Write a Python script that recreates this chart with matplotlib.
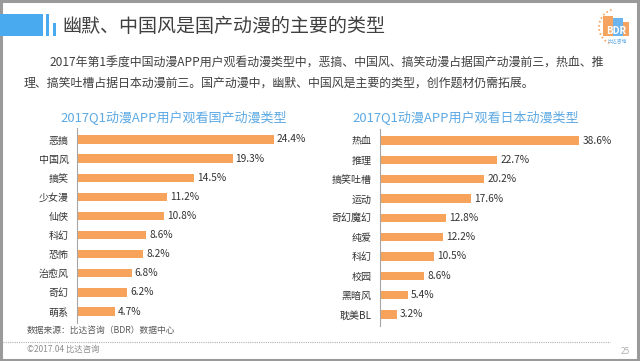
import matplotlib
matplotlib.use("Agg")
import matplotlib.pyplot as plt
from matplotlib.patches import Rectangle, Arc

plt.rcParams['font.family'] = ['Noto Sans CJK SC', 'DejaVu Sans']

# data
cn_types = ["恶搞", "中国风", "搞笑", "少女漫", "仙侠", "科幻", "恐怖", "治愈风", "奇幻", "萌系"]
cn_values = [24.4, 19.3, 14.5, 11.2, 10.8, 8.6, 8.2, 6.8, 6.2, 4.7]
jp_types = ["热血", "推理", "搞笑吐槽", "运动", "奇幻魔幻", "纯爱", "科幻", "校园", "黑暗风", "耽美BL"]
jp_values = [38.6, 22.7, 20.2, 17.6, 12.8, 12.2, 10.5, 8.6, 5.4, 3.2]

W, H = 640, 361
bar_color = "#F7A35C"
title_blue = "#5DA9E4"


def fx(px):
    return px / W


def fy(py):
    return 1 - py / H


fig = plt.figure(figsize=(6.4, 3.61), dpi=100)
fig.patch.set_facecolor("white")

# frame
fig.patches.append(Rectangle((0.0015, 0.003), 0.9955, 0.993, transform=fig.transFigure,
                             fill=False, edgecolor="#9a9a9a", linewidth=2.2))

# header bars
fig.patches.append(Rectangle((0, fy(36)), fx(43), (36 - 14) / H, transform=fig.transFigure,
                             color="#4AAAF0", lw=0))
fig.patches.append(Rectangle((fx(46), fy(36)), fx(3), (36 - 14) / H, transform=fig.transFigure,
                             color="#4AAAF0", lw=0))
fig.patches.append(Rectangle((fx(53), fy(36)), fx(3), (36 - 23) / H, transform=fig.transFigure,
                             color="#4AAAF0", lw=0))
fig.text(fx(62), fy(26), "幽默、中国风是国产动漫的主要的类型", fontsize=13.7,
         color="#3f3f3f", va="center", ha="left")

# logo
fig.patches.append(Rectangle((fx(603), fy(36)), fx(10), 20 / H, transform=fig.transFigure,
                             color="#F4A460", lw=0))
fig.patches.append(Rectangle((fx(613), fy(36)), fx(10), 18 / H, transform=fig.transFigure,
                             color="#6CB4EE", lw=0))
fig.patches.append(Rectangle((fx(623), fy(36)), fx(6), 14 / H, transform=fig.transFigure,
                             color="#F4A460", lw=0))
fig.text(fx(616), fy(31), "BDR", fontsize=7, color="white", ha="center", va="center",
         fontweight="bold")
fig.text(fx(617), fy(42), "比达咨询", fontsize=3.5, color="#5DA9E4", ha="center", va="center")
fig.patches.append(Arc((fx(617), fy(27)), fx(36), 36 / H, theta1=100, theta2=260,
                       transform=fig.transFigure, color="#F4A460", lw=1.2, ls=(0, (1, 1.5))))

# paragraph
fig.text(fx(50), fy(63),
         "2017年第1季度中国动漫APP用户观看动漫类型中，恶搞、中国风、搞笑动漫占据国产动漫前三，热血、推",
         fontsize=8.6, color="#404040", va="center", ha="left")
fig.text(fx(24), fy(83),
         "理、搞笑吐槽占据日本动漫前三。国产动漫中，幽默、中国风是主要的类型，创作题材仍需拓展。",
         fontsize=8.6, color="#404040", va="center", ha="left")


def bar_panel(rect, names, values, xmax, title, title_x):
    ax = fig.add_axes(rect)
    pos = list(range(len(names)))
    ax.barh(pos, values, height=0.43, color=bar_color)
    for p, v in zip(pos, values):
        ax.text(v + xmax * 0.012, p, "%.1f%%" % v, va="center", ha="left",
                fontsize=7.3, color="#333333")
    ax.set_ylim(len(names) - 0.4, -0.6)
    ax.set_xlim(0, xmax)
    ax.set_yticks(pos)
    ax.set_yticklabels(names, fontsize=7.2, color="#333333")
    ax.tick_params(axis="y", length=0, pad=6)
    ax.set_xticks([])
    for s in ["top", "right", "bottom"]:
        ax.spines[s].set_visible(False)
    ax.spines["left"].set_color("#a6a6a6")
    ax.spines["left"].set_linewidth(0.8)
    fig.text(title_x, fy(118), title, fontsize=9.4, color=title_blue,
             ha="center", va="center")
    return ax


bar_panel([fx(77), fy(323), fx(242), 195 / H], cn_types, cn_values, 30,
          "2017Q1动漫APP用户观看国产动漫类型", fx(174))
bar_panel([fx(380), fy(326), fx(248), 197 / H], jp_types, jp_values, 48,
          "2017Q1动漫APP用户观看日本动漫类型", fx(466))

# footer
fig.text(fx(27), fy(330), "数据来源：比达咨询（BDR）数据中心", fontsize=6.3,
         color="#595959", va="center", ha="left")
fig.add_artist(plt.Line2D([0.004, fx(610)], [fy(342), fy(342)], transform=fig.transFigure,
                          color="#b0b0b0", lw=0.8, ls=(0, (1, 1))))
fig.text(fx(27), fy(349), "©2017.04 比达咨询", fontsize=6, color="#8c8c8c",
         va="center", ha="left")
fig.text(fx(625), fy(352), "25", fontsize=6, color="#b0b0b0", va="center", ha="center")

fig.savefig("out.png", dpi=100)
